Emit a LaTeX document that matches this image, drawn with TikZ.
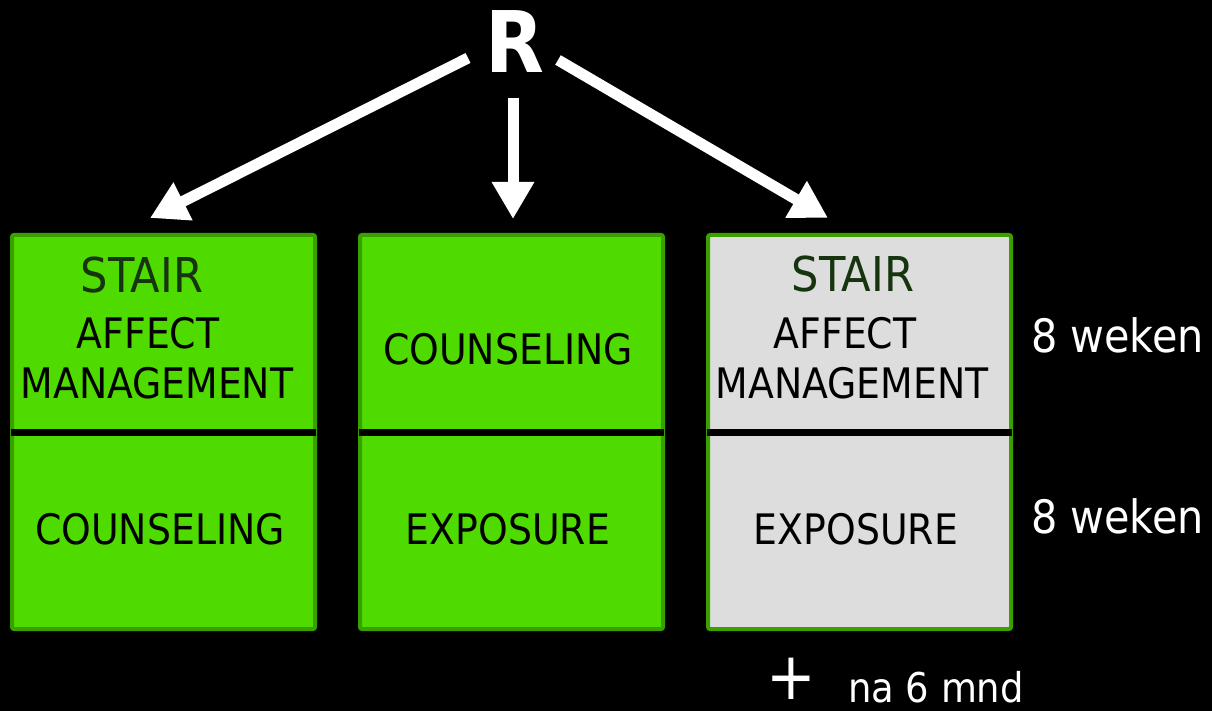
\documentclass[tikz,border=0pt]{standalone}
\usepackage{fontspec}
\setmainfont{DejaVu Sans Condensed}
\usetikzlibrary{arrows.meta}
\definecolor{boxgreen}{RGB}{79,219,0}
\definecolor{edgegreen}{RGB}{58,160,0}
\definecolor{boxgray}{RGB}{221,221,221}
\definecolor{stairgreen}{RGB}{22,52,14}
\tikzset{
  panel/.style={draw=edgegreen, line width=4pt, rounded corners=2pt, minimum width=303pt, minimum height=394pt, inner sep=0pt},
  divider/.style={line width=7pt, black},
  bigarrow/.style={white, line width=11pt, -{Triangle[length=37pt,width=40pt]}},
  lbl/.style={anchor=base, inner sep=0pt, font=\fontsize{42}{48}\selectfont},
  stairlbl/.style={anchor=base, inner sep=0pt, text=stairgreen, font=\fontsize{48}{54}\selectfont},
  sidelbl/.style={anchor=base west, inner sep=0pt, text=white, font=\fontsize{46}{52}\selectfont},
}
\begin{document}
\begin{tikzpicture}[x=1pt,y=-1pt]
\useasboundingbox[fill=black] (0,0) rectangle (1212,711);
% boxes
\node[panel, fill=boxgreen] (b1) at (163.5,432) {};
\node[panel, fill=boxgreen] (b2) at (511.5,432) {};
\node[panel, fill=boxgray] (b3) at (859.5,432) {};
% dividers
\foreach \b in {b1,b2,b3}{
  \draw[divider] ([xshift=1pt]\b.west) -- ([xshift=-1pt]\b.east);
}
% R
\node[anchor=base, inner sep=0pt, text=white, font=\fontsize{85}{90}\selectfont\bfseries] (R) at (515,73) {R};
% arrow ends
\coordinate (s1) at (468,58);
\coordinate (t1) at (150,218);
\coordinate (s2) at (513,98);
\coordinate (t2) at (513,219);
\coordinate (s3) at (558,60);
\coordinate (t3) at (828,218);
\draw[bigarrow] (s1) -- (t1);
\draw[bigarrow] (s2) -- (t2);
\draw[bigarrow] (s3) -- (t3);
% box 1 text
\node[stairlbl] (st1) at (142,292) {STAIR};
\node[lbl] (af1) at (148,348) {AFFECT};
\node[lbl] (ma1) at (157,398) {MANAGEMENT};
\node[lbl] (co1) at (160,544) {COUNSELING};
% box 2 text
\node[lbl] (co2) at (508,364) {COUNSELING};
\node[lbl] (ex2) at (508,544) {EXPOSURE};
% box 3 text
\node[stairlbl] (st3) at (853,291) {STAIR};
\node[lbl] (af3) at (845,348) {AFFECT};
\node[lbl] (ma3) at (852,398) {MANAGEMENT};
\node[lbl] (ex3) at (856,544) {EXPOSURE};
% side labels
\node[sidelbl] (w1) at (1031,352) {8 weken};
\node[sidelbl] (w2) at (1031,533) {8 weken};
\node[anchor=base, inner sep=0pt, text=white, font=\fontsize{40}{44}\selectfont] (plus) at (791,699) {\scalebox{1.65}{+}};
\node[anchor=base west, inner sep=0pt, text=white, font=\fontsize{41}{46}\selectfont] (na) at (848,702) {na 6 mnd};
\end{tikzpicture}
\end{document}
